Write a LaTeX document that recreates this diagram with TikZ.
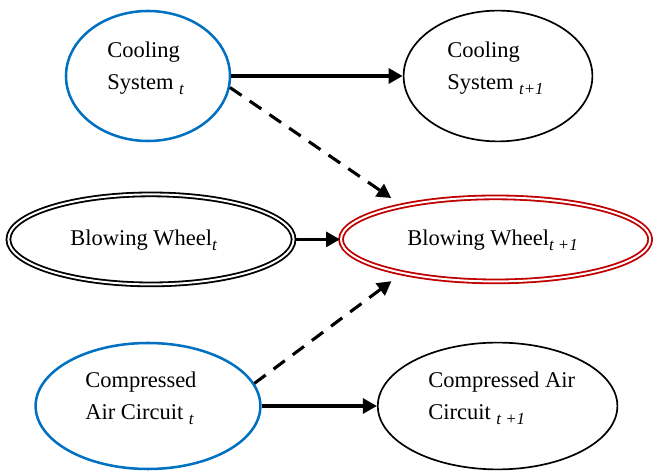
\documentclass[tikz,border=0pt]{standalone}
\usepackage{fontspec}
\setmainfont{Liberation Serif}
\usepackage{tikz}
\usetikzlibrary{arrows.meta,shapes.geometric}

\definecolor{cellblue}{RGB}{0,112,192}
\definecolor{cellred}{RGB}{192,0,0}
\newcommand\timesub[1]{\raisebox{-3.5pt}{\fontsize{12}{12}\selectfont\itshape #1}}

\begin{document}
\begin{tikzpicture}[
		state/.style={ellipse,draw,line width=1.2pt,inner sep=0pt},
		nowstate/.style={state,draw=cellblue,line width=1.8pt},
		wheel/.style={state,double,double distance=1.4pt,line width=1.3pt},
		label/.style={anchor=north west,inner sep=0pt,align=left,font=\fontsize{16}{22.5}\selectfont},
		link/.style={line width=2.5pt,-{Triangle[length=10pt,width=10.5pt]}},
		cause/.style={link,line width=2.2pt,dash pattern=on 10pt off 7pt,shorten >=9pt}]
		\useasboundingbox (0,0) rectangle (16.325,11.775);
%		\draw[help lines] (0,0) grid (16,11);
		% ellipses
		\path (3.70,9.875) node(cool_t) [nowstate,minimum width=4.10cm,minimum height=3.25cm] {};
		\path (12.45,9.875) node(cool_t1) [state,minimum width=4.72cm,minimum height=3.27cm] {};
		\path (3.775,5.79) node(wheel_t) [wheel,minimum width=7.13cm,minimum height=2.25cm] {};
		\path (12.39,5.79) node(wheel_t1) [wheel,draw=cellred,minimum width=7.73cm,minimum height=2.10cm] {};
		\path (3.70,1.625) node(air_t) [nowstate,minimum width=5.62cm,minimum height=3.15cm] {};
		\path (12.44,1.625) node(air_t1) [state,minimum width=5.99cm,minimum height=3.17cm] {};

		% texts
		\path (2.675,10.735) node(cool_t_txt) [label] {Cooling\\System \timesub{t}};
		\path (11.175,10.735) node(cool_t1_txt) [label] {Cooling\\System \timesub{t+1}};
		\path (1.75,6.035) node(wheel_t_txt) [label] {Blowing Wheel\timesub{t}};
		\path (10.175,6.035) node(wheel_t1_txt) [label] {Blowing Wheel\timesub{t +1}};
		\path (2.125,2.485) node(air_t_txt) [label] {Compressed\\Air Circuit \timesub{t}};
		\path (10.70,2.485) node(air_t1_txt) [label] {Compressed Air\\Circuit \timesub{t +1}};

		% arrows
		\draw[link] (cool_t) -- (cool_t1);
		\draw[link] (wheel_t) -- (wheel_t1);
		\draw[link] (air_t) -- (air_t1);
		\draw[cause] (cool_t.-8) -- (wheel_t1.160);
		\draw[cause] (air_t.12) -- (wheel_t1.200);
	\end{tikzpicture}
\end{document}
